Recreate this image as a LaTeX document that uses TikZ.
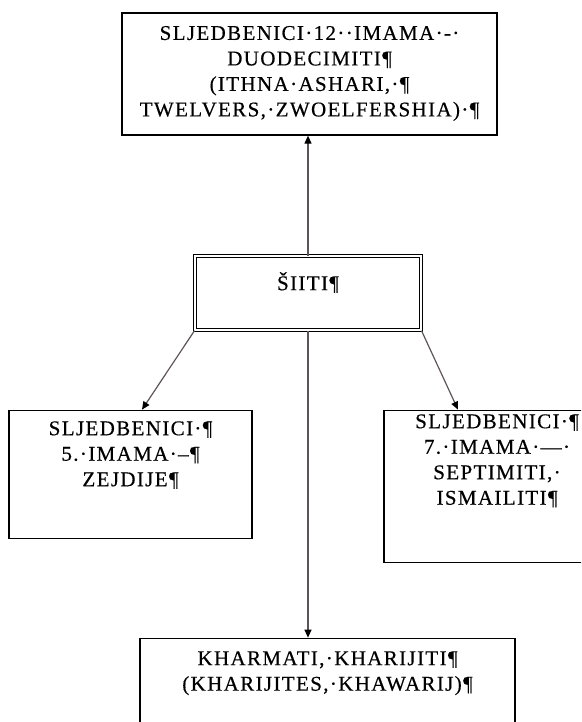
\documentclass[tikz,border=0pt]{standalone}
\usepackage{fontspec}
\setmainfont{Liberation Serif}[LetterSpace=6.5,FakeBold=0.4]
\usetikzlibrary{positioning,arrows.meta}
\definecolor{linkgray}{RGB}{95,85,85}
\tikzstyle{branch} = [rectangle,
                      draw=black,
                      line width=1.3pt,
                      inner sep=0pt,
                      fill=white,
                      font=\fontsize{21}{25.5}\selectfont]
\tikzstyle{root} = [branch,
                    double,
                    double distance=2pt,
                    line width=1pt]
\tikzstyle{link} = [draw=linkgray,
                    line width=1.2pt,
                    -{Triangle[length=8pt,width=7pt,color=black]}]
\newcommand{\boxtext}[4]{\parbox[c][#2][t]{#1}{\centering\vspace*{#3}#4}}

\begin{document}
\begin{tikzpicture}[x=1pt,y=1pt]
\path[use as bounding box] (0,0) rectangle (581,-722);
\clip (0,0) rectangle (581,-722);
\node (twelvers) [branch] at (309.5,-74) {\boxtext{375pt}{122pt}{13pt}{SLJEDBENICI·12··IMAMA·-·\\DUODECIMITI¶\\(ITHNA·ASHARI,·¶\\TWELVERS,·ZWOELFERSHIA)·¶}};
\node (shia) [root, below=120pt of twelvers, xshift=-1.5pt] {\boxtext{226pt}{74pt}{16pt}{ŠIITI¶}};
\node (zejdije) [branch, below=79pt of shia, xshift=-177.5pt] {\boxtext{243pt}{128pt}{11pt}{SLJEDBENICI·¶\\5.·IMAMA·–¶\\ZEJDIJE¶}};
\node (ismailiti) [branch, below=79pt of shia, xshift=189pt] {\boxtext{226pt}{152pt}{4pt}{SLJEDBENICI·¶\\7.·IMAMA·—·\\SEPTIMITI,·\\ISMAILITI¶}};
\node (kharijiti) [branch, below=307pt of shia, xshift=19.5pt] {\boxtext{375pt}{124pt}{13pt}{KHARMATI,·KHARIJITI¶\\(KHARIJITES,·KHAWARIJ)¶}};
\draw[link] (shia.north) -- (shia.north |- twelvers.south);
\draw[link] (shia.south west) -- ([xshift=11.5pt]zejdije.north);
\draw[link] (shia.south east) -- ([xshift=-39pt]ismailiti.north);
\draw[link] (shia.south) -- (shia.south |- kharijiti.north);
\end{tikzpicture}
\end{document}
